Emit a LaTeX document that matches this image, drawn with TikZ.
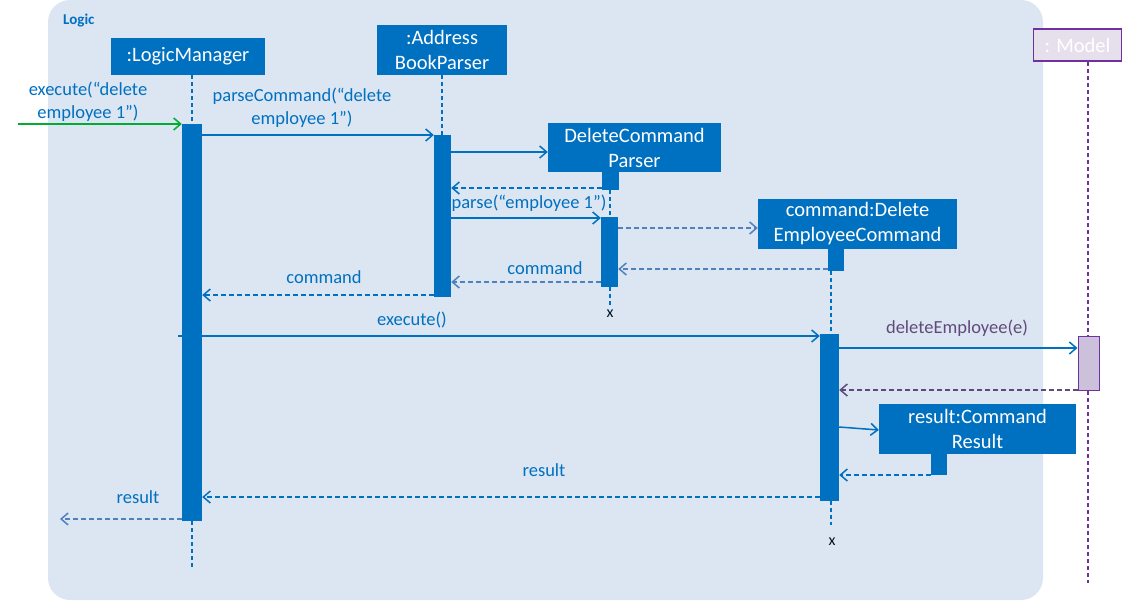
\documentclass[tikz,border=0pt]{standalone}
\usepackage{fontspec}
\setmainfont{Carlito}
\usetikzlibrary{arrows.meta}
\definecolor{mblue}{HTML}{0070C0}
\definecolor{lblue}{HTML}{4F81BD}
\definecolor{bgblue}{HTML}{DCE6F2}
\definecolor{mpurple}{HTML}{7030A0}
\definecolor{dpurple}{HTML}{604A7B}
\definecolor{lpurple}{HTML}{E6E0EC}
\definecolor{barpurple}{HTML}{CCC1DA}
\tikzset{
  obj/.style={fill=mblue, text=white, inner sep=0pt, align=center, font=\fontsize{20.5}{25}\selectfont},
  bar/.style={fill=mblue, inner sep=0pt},
  life/.style={draw=mblue, line width=1.6pt, dash pattern=on 4pt off 3pt},
  msg/.style={draw=mblue, line width=1.5pt, -{Straight Barb[length=7pt,width=12pt,line width=1.5pt]}},
  ret/.style={draw=mblue, line width=1.5pt, dash pattern=on 5pt off 3pt, -{Straight Barb[length=7pt,width=12pt,line width=1.5pt]}},
  lret/.style={ret, draw=lblue},
  lbl/.style={text=mblue, align=center, inner sep=0pt, font=\fontsize{18.5}{23}\selectfont},
  xmark/.style={text=black!80!mblue, inner sep=0pt, font=\fontsize{16}{18}\selectfont},
}
\begin{document}
\begin{tikzpicture}[x=1pt,y=-1pt]
\useasboundingbox (0,0) rectangle (1123,600);
\fill[bgblue, rounded corners=22pt] (48,0) rectangle (1043,600);
\node[anchor=west, text=mblue, inner sep=0pt, font=\bfseries\fontsize{15}{17}\selectfont] (logic) at (63,21) {Logic};

% objects
\node[obj, minimum width=154, minimum height=37] (lm) at (188,56.5) {:LogicManager};
\node[obj, minimum width=130, minimum height=50] (ab) at (442,50) {:Address\\BookParser};
\node[obj, minimum width=173, minimum height=49] (dcp) at (634.5,147.5) {DeleteCommand\\Parser};
\node[obj, minimum width=199, minimum height=50] (dec) at (857.5,224) {command:Delete\\EmployeeCommand};
\node[obj, minimum width=197, minimum height=50] (cr) at (977.5,429) {result:Command\\Result};
\node[draw=mpurple, line width=1.5pt, fill=lpurple, text=white, inner sep=0pt, minimum width=88, minimum height=32, font=\fontsize{20.5}{22}\selectfont] (model) at (1077.5,45) {: Model};

% lifelines
\coordinate (lmtop) at (192,75);
\coordinate (lmend) at (192,568);
\coordinate (abtop) at (442,75);
\coordinate (dcpend) at (610,307);
\coordinate (decend) at (831,525);
\coordinate (mend) at (1088,583);
\draw[life, draw=mpurple] (model.south -| mend) -- (mend);

% activation bars
\node[bar, minimum width=20, minimum height=397] (lmbar) at (192,322.5) {};
\node[bar, minimum width=17, minimum height=162] (abbar) at (442.5,216) {};
\node[bar, minimum width=17, minimum height=18] (dcpstub) at (610.5,181) {};
\node[bar, minimum width=17, minimum height=70] (dcpbar) at (609.5,252) {};
\node[bar, minimum width=16, minimum height=22] (decstub) at (836,260) {};
\node[bar, minimum width=19, minimum height=167] (decbar) at (829.5,417.5) {};
\node[bar, minimum width=16, minimum height=21] (crstub) at (939,464.5) {};
\node[draw=mpurple, line width=1pt, fill=barpurple, inner sep=0pt, minimum width=21, minimum height=54] (mbar) at (1088.5,363) {};

\draw[life] (lmtop) -- (lmbar.north -| lmtop);
\draw[life] (lmbar.south -| lmend) -- (lmend);
\draw[life] (abtop) -- (abbar.north -| abtop);
\draw[life] (dcpstub.south -| dcpend) -- (dcpbar.north -| dcpend);
\draw[life] (dcpbar.south -| dcpend) -- (dcpend);
\draw[life] (decstub.south -| decend) -- (decbar.north -| decend);
\draw[life] (decbar.south -| decend) -- (decend);
\node[xmark] (x1) at (610,314) {x};
\node[xmark] (x2) at (832,542) {x};

% messages
\coordinate (start) at (18,124);
\draw[draw=green!60!black!80!cyan, line width=1.5pt, -{Straight Barb[length=7pt,width=12pt,line width=1.5pt]}] (start) -- (start -| lmbar.west);
\node[lbl] (l1) at (88,102) {execute(“delete\\employee 1”)};

\draw[msg] (lmbar.east |- 0,135) -- (abbar.west |- 0,135);
\node[lbl] (l2) at (302,108) {parseCommand(“delete\\employee 1”)};

\draw[msg] (abbar.east |- 0,152) -- (dcp.west |- 0,152);
\draw[ret] (dcpstub.west |- 0,188) -- (abbar.east |- 0,188);

\node[lbl] (l3) at (529,203) {parse(“employee 1”)};
\draw[msg] (abbar.east |- 0,218) -- (dcpbar.west |- 0,218);
\draw[lret] (dcpbar.east |- 0,228) -- (dec.west |- 0,228);

\draw[lret] (decstub.west |- 0,269) -- (dcpbar.east |- 0,269);
\node[lbl] (l4) at (545,268) {command};
\draw[lret] (dcpbar.west |- 0,282) -- (abbar.east |- 0,282);
\draw[ret] (abbar.west |- 0,295) -- (lmbar.east |- 0,295);
\node[lbl] (l5) at (324,277) {command};

\coordinate (exs) at (178,336);
\draw[msg] (exs) -- (decbar.west |- exs);
\node[lbl] (l6) at (412,320) {execute()};

\draw[msg] (decbar.east |- 0,348) -- (mbar.west |- 0,348);
\node[lbl, text=dpurple] (l7) at (957,328) {deleteEmployee(e)};
\draw[ret, draw=dpurple] (mbar.west |- 0,390) -- (decbar.east |- 0,390);

\draw[msg] (decbar.east |- 0,427) -- (cr.west |- 0,430);
\draw[ret] (crstub.west |- 0,475) -- (decbar.east |- 0,475);

\draw[ret] (decbar.west |- 0,497) -- (lmbar.east |- 0,497);
\node[lbl] (l8) at (544,470) {result};

\coordinate (resend) at (60,519);
\draw[lret] (lmbar.west |- resend) -- (resend);
\node[lbl] (l9) at (138,497) {result};
\end{tikzpicture}
\end{document}
